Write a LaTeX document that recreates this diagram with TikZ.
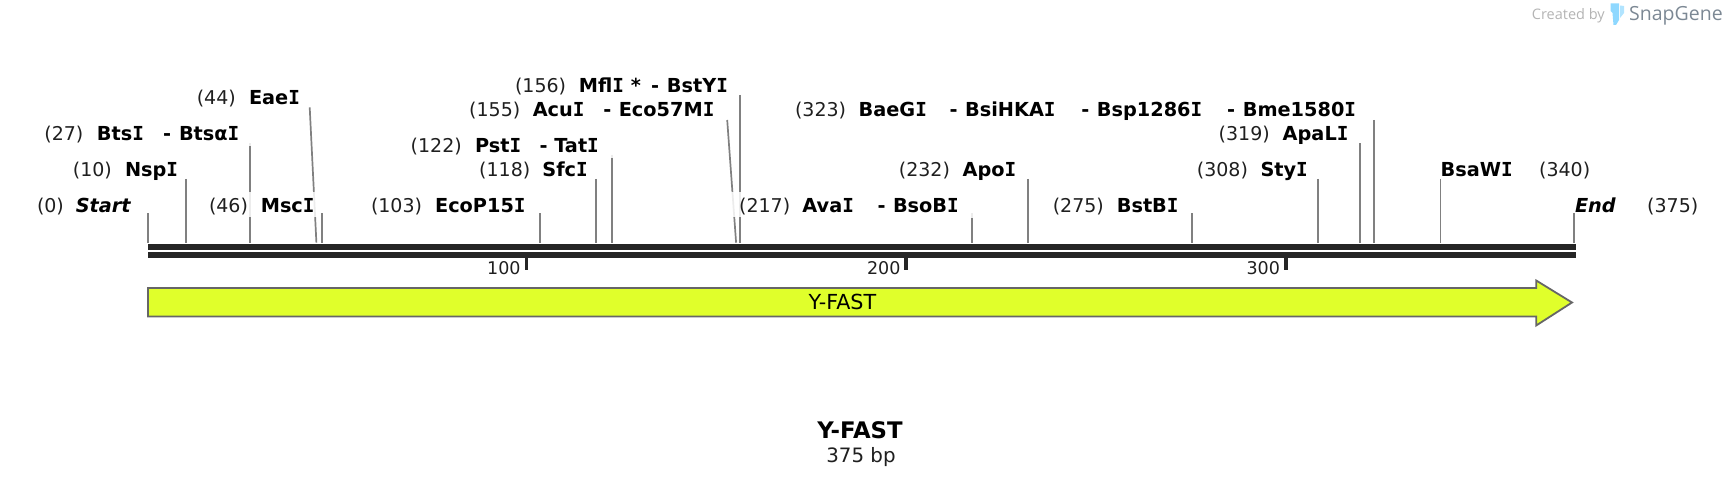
\documentclass[tikz,border=0pt]{standalone}
\usepackage{fontspec}
\setmainfont{DejaVu Sans}
\newfontfamily\wmfont{Open Sans}
\newfontfamily\monoi{DejaVu Sans Mono}
\newcommand{\sI}{{\monoi\bfseries I}}
\definecolor{sitegray}{HTML}{808080}
\definecolor{dnablack}{HTML}{262626}
\definecolor{featfill}{HTML}{E0FF2B}
\definecolor{featline}{HTML}{666666}
\definecolor{wmgray}{HTML}{B4B4B4}
\definecolor{wmdark}{HTML}{7C8894}
\definecolor{wmblue}{HTML}{8FD8FF}
\tikzset{
  x=1pt,y=-1pt,
  lab/.style={inner sep=0pt,outer sep=0pt,anchor=base west,text=black,yshift=-0.7pt},
  posn/.style={lab,font=\fontsize{19}{20}\selectfont,text=black!88},
  enz/.style={lab,font=\fontsize{19.3}{20}\selectfont\bfseries},
  endmark/.style={lab,font=\fontsize{19.3}{20}\selectfont\bfseries\itshape},
  sitecut/.style={draw=sitegray,line width=1.7pt},
  halo/.style={fill=white,opacity=.85},
  dnabar/.style={fill=dnablack},
  ticklab/.style={lab,font=\fontsize{17.5}{18}\selectfont,text=black!88},
}
\begin{document}
\begin{tikzpicture}
\useasboundingbox (0,0) rectangle (1724,486);
% cut-site lines
\coordinate (a0) at (148,213.3);  \coordinate (b0) at (148,242.7);
\coordinate (a1) at (186,179);    \coordinate (b1) at (186,242.7);
\coordinate (a2) at (250,143.3);  \coordinate (b2) at (250,242.7);
\coordinate (a3) at (309.7,107.3);\coordinate (b3) at (316.4,242.7);
\coordinate (a4) at (322.3,213.3);\coordinate (b4) at (322.3,242.7);
\coordinate (a5) at (540.2,213.3);\coordinate (b5) at (540.2,242.7);
\coordinate (a6) at (595.9,179);  \coordinate (b6) at (595.9,242.7);
\coordinate (a7) at (611.8,155);  \coordinate (b7) at (611.8,242.7);
\coordinate (a8) at (727.2,120);  \coordinate (b8) at (736.1,242.7);
\coordinate (a9) at (739.8,95);   \coordinate (b9) at (739.8,242.7);
\coordinate (a10) at (972.2,213.3);\coordinate (b10) at (972.2,242.7);
\coordinate (a11) at (1028,179);  \coordinate (b11) at (1028,242.7);
\coordinate (a12) at (1192.1,213.3);\coordinate (b12) at (1192.1,242.7);
\coordinate (a13) at (1318.3,179);\coordinate (b13) at (1318.3,242.7);
\coordinate (a14) at (1360.1,143.3);\coordinate (b14) at (1360.1,242.7);
\coordinate (a15) at (1374.1,120);\coordinate (b15) at (1374.1,242.7);
\coordinate (a16) at (1440.4,179);\coordinate (b16) at (1440.4,242.7);
\coordinate (a17) at (1574,213.3);\coordinate (b17) at (1574,242.7);
\foreach \i in {0,...,17} \draw[sitecut] (a\i) -- (b\i);
% label backgrounds that fade the lines
\fill[halo] (245,191.7) rectangle (320,217.5);
\fill[halo] (722,191.7) rectangle (745,217.5);
\fill[halo] (965,191.7) rectangle (980,218);
\fill[halo] (245,142) rectangle (255,146);
\fill[halo] (607,154) rectangle (617,158);
% DNA
\fill[dnabar] (148,244) rectangle (1576.2,250);
\fill[dnabar] (148,252) rectangle (1576.2,258);
\fill[dnabar] (524.6,258) rectangle (528,270);
\fill[dnabar] (904.4,258) rectangle (908,270);
\fill[dnabar] (1284.2,258) rectangle (1288,270);
\node[ticklab] (t100) at (487.2,274) {100};
\node[ticklab] (t200) at (867.1,274) {200};
\node[ticklab] (t300) at (1246.5,274) {300};
% feature
\draw[draw=featline,fill=featfill,line width=1.8pt,line join=miter]
  (148,288) -- (1536.2,288) -- (1536.2,280.5) -- (1572,302.5) -- (1536.2,325.5) -- (1536.2,316.5) -- (148,316.5) -- cycle;
\node[lab,font=\fontsize{20.7}{21}\selectfont] (feat) at (808.6,308.3) {Y-FAST};
% row 1
\node[posn] (p0) at (37,211.7) {(0)};
\node[endmark] (e0) at (75.8,211.7) {Start};
\node[posn] (p46) at (209,211.7) {(46)};
\node[enz] (e46) at (260.8,211.7) {Msc\sI};
\node[posn] (p103) at (371,211.7) {(103)};
\node[enz] (e103) at (435.1,211.7) {EcoP15\sI};
\node[posn] (p217) at (739.1,211.7) {(217)};
\node[enz] (e217a) at (802.4,211.7) {Ava\sI};
\node[enz] (d217) at (877.5,211.7) {-};
\node[enz] (e217b) at (893,211.7) {BsoB\sI};
\node[posn] (p275) at (1052.8,211.7) {(275)};
\node[enz] (e275) at (1116.8,211.7) {BstB\sI};
\node[endmark] (e375) at (1575,211.7) {End};
\node[posn] (p375) at (1647.2,211.7) {(375)};
% row 2
\node[posn] (p10) at (72.9,175.7) {(10)};
\node[enz] (e10) at (125,175.7) {Nsp\sI};
\node[posn] (p118) at (479.2,175.7) {(118)};
\node[enz] (e118) at (542.4,175.7) {Sfc\sI};
\node[posn] (p232) at (898.9,175.7) {(232)};
\node[enz] (e232) at (962.6,175.7) {Apo\sI};
\node[posn] (p308) at (1196.9,175.7) {(308)};
\node[enz] (e308) at (1260.5,175.7) {Sty\sI};
\node[enz] (e340) at (1440.7,175.7) {BsaW\sI};
\node[posn] (p340) at (1539.1,175.7) {(340)};
% row 3
\node[posn] (p122) at (410.7,151.7) {(122)};
\node[enz] (e122a) at (475,151.7) {Pst\sI};
\node[enz] (d122) at (539.5,151.7) {-};
\node[enz] (e122b) at (554.3,151.7) {Tat\sI};
% row 4
\node[posn] (p27) at (44.4,139.7) {(27)};
\node[enz] (e27a) at (96.9,139.7) {Bts\sI};
\node[enz] (d27) at (163.2,139.7) {-};
\node[enz] (e27b) at (179,139.7) {Btsα\sI};
\node[posn] (p319) at (1218.7,139.7) {(319)};
\node[enz] (e319) at (1282.7,139.7) {ApaL\sI};
% row 5
\node[posn] (p155) at (469.2,115.7) {(155)};
\node[enz] (e155a) at (532.8,115.7) {Acu\sI};
\node[enz] (d155) at (603.3,115.7) {-};
\node[enz] (e155b) at (618.8,115.7) {Eco57M\sI};
\node[posn] (p323) at (795,115.7) {(323)};
\node[enz] (e323a) at (858.6,115.7) {BaeG\sI};
\node[enz] (d323a) at (949.6,115.7) {-};
\node[enz] (e323b) at (965.1,115.7) {BsiHKA\sI};
\node[enz] (d323b) at (1081.3,115.7) {-};
\node[enz] (e323c) at (1096.9,115.7) {Bsp1286\sI};
\node[enz] (d323c) at (1227.2,115.7) {-};
\node[enz] (e323d) at (1242.8,115.7) {Bme1580\sI};
% row 6
\node[posn] (p44) at (196.8,103.7) {(44)};
\node[enz] (e44) at (249,103.7) {Eae\sI};
% row 7
\node[posn] (p156) at (515,91.7) {(156)};
\node[enz] (e156a) at (578.9,91.7) {Mfl\sI{} *};
\node[enz] (d156) at (651,91.7) {-};
\node[enz] (e156b) at (666.9,91.7) {BstY\sI};
% title
\node[inner sep=0pt,anchor=base,font=\fontsize{22.8}{24}\selectfont\bfseries] (title) at (860,438) {Y-FAST};
\node[inner sep=0pt,anchor=base,font=\fontsize{19.8}{20}\selectfont,text=black!88] (size) at (861,462) {375 bp};
% watermark
\node[inner sep=0pt,anchor=base west,font=\wmfont\fontsize{14.5}{15}\selectfont,text=wmgray] (wm1) at (1531.7,20) {Created by};
\fill[wmblue] (1610.7,3.5) -- (1619,3.5) -- (1619,20) -- (1616,25) -- (1613.5,25) -- (1612.5,13) -- (1610.7,11) -- cycle;
\fill[wmblue!70] (1620,5.5) -- (1624,6) -- (1624,13) -- (1620,18) -- cycle;
\node[inner sep=0pt,anchor=base west,font=\wmfont\fontsize{19.5}{20}\selectfont,text=wmdark] (wm2) at (1629,21) {SnapGene};
\end{tikzpicture}
\end{document}
